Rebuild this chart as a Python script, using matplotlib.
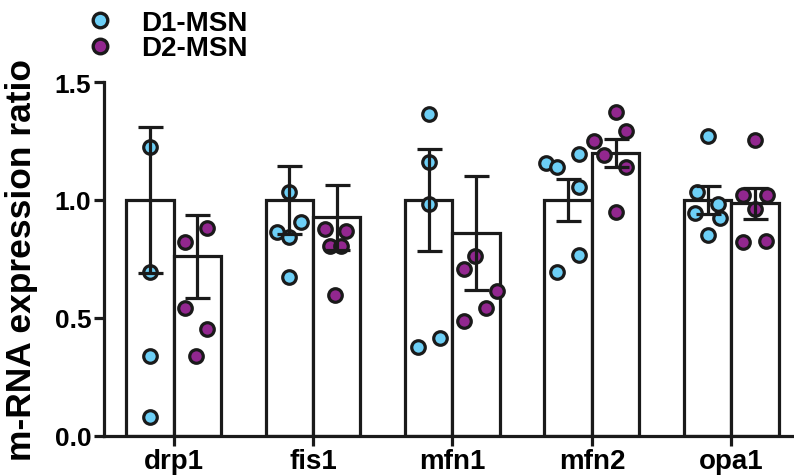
import matplotlib
matplotlib.use("Agg")
import matplotlib.pyplot as plt
from matplotlib.lines import Line2D
import numpy as np

plt.rcParams['font.family'] = ['Liberation Sans', 'DejaVu Sans']
plt.rcParams['font.weight'] = 'bold'

genes = ["drp1", "fis1", "mfn1", "mfn2", "opa1"]
groups = ["D1-MSN", "D2-MSN"]

d1_means = [1.0, 1.0, 1.0, 1.0, 1.0]
d1_sem = [0.311, 0.143, 0.216, 0.089, 0.061]
d2_means = [0.761, 0.927, 0.860, 1.199, 0.986]
d2_sem = [0.175, 0.137, 0.240, 0.060, 0.066]

d1_points = [
    [1.223, 0.694, 0.340, 0.082],
    [1.032, 0.908, 0.863, 0.842, 0.672],
    [1.364, 1.162, 0.983, 0.376, 0.414],
    [1.157, 1.138, 1.195, 1.054, 0.767, 0.693],
    [1.270, 1.035, 0.983, 0.945, 0.924, 0.853],
]
d2_points = [
    [0.820, 0.880, 0.541, 0.453, 0.338],
    [0.877, 0.806, 0.806, 0.870, 0.599],
    [0.761, 0.708, 0.613, 0.541, 0.486],
    [1.251, 1.191, 1.374, 1.291, 1.138, 0.950],
    [1.256, 1.021, 1.021, 0.962, 0.820, 0.828],
]
# horizontal jitter of the dots (category units)
d1_jitter = [
    [0, 0, 0, 0],
    [0, 0.084, -0.086, 0, 0],
    [0, 0, 0, -0.077, 0.084],
    [-0.156, -0.077, 0.077, 0.077, 0.077, -0.081],
    [0, -0.079, 0.075, -0.093, 0.086, 0],
]
d2_jitter = [
    [-0.092, 0.068, -0.092, 0.068, -0.013],
    [-0.088, -0.052, 0.031, 0.067, -0.012],
    [-0.009, -0.088, 0.15, 0.072, -0.088],
    [-0.154, -0.082, 0, 0.077, 0.077, 0],
    [0, -0.086, 0.084, 0, -0.086, 0.077],
]

c_d1 = '#6dcff6'
c_d2 = '#92278f'
edge = '#1a1a1a'

W, H = 794, 477
fig = plt.figure(figsize=(W / 100, H / 100), dpi=100)
ax = fig.add_axes([104 / W, 1 - 437 / H, (794 - 104) / W, (437 - 83) / H])

x = np.arange(len(genes))
bw = 0.34
off = 0.17
lw = 2.3

for means, sems, pts, jit, sign, col in [
    (d1_means, d1_sem, d1_points, d1_jitter, -1, c_d1),
    (d2_means, d2_sem, d2_points, d2_jitter, 1, c_d2),
]:
    pos = x + sign * off
    ax.bar(pos, means, width=bw, color='white', edgecolor=edge, linewidth=lw, zorder=2)
    for i in range(len(genes)):
        px = pos[i] + np.array(jit[i])
        ax.scatter(px, pts[i], s=95, facecolor=col, edgecolor=edge, linewidth=2.3, zorder=3)
    ax.errorbar(pos, means, yerr=sems, fmt='none', ecolor=edge, elinewidth=lw,
                capsize=9, capthick=lw, zorder=4)

ax.set_xlim(-0.5, 4.45)
ax.set_ylim(0, 1.5)
ax.set_yticks([0.0, 0.5, 1.0, 1.5])
ax.set_yticklabels(['0.0', '0.5', '1.0', '1.5'])
ax.set_xticks(x)
ax.set_xticklabels(genes)
for s in ['top', 'right']:
    ax.spines[s].set_visible(False)
for s in ['left', 'bottom']:
    ax.spines[s].set_linewidth(lw)
    ax.spines[s].set_color(edge)
ax.tick_params(axis='both', width=lw, length=7, color=edge, pad=2)
ax.tick_params(axis='y', labelsize=19)
ax.tick_params(axis='x', labelsize=20)
for t in ax.get_xticklabels() + ax.get_yticklabels():
    t.set_fontweight('bold')

ax.set_ylabel('m-RNA expression ratio', fontsize=25.5, fontweight='bold')
ax.yaxis.set_label_coords(-0.096, 0.5)

handles = [
    Line2D([], [], linestyle='none', marker='o', markersize=10.5, markerfacecolor=c_d1,
           markeredgecolor=edge, markeredgewidth=2.4),
    Line2D([], [], linestyle='none', marker='o', markersize=10.5, markerfacecolor=c_d2,
           markeredgecolor=edge, markeredgewidth=2.4),
]
fig.legend(handles, groups, loc='upper left', bbox_to_anchor=(86 / W, 1 - 11 / H),
           frameon=False, handlelength=1.0, handletextpad=1.0,
           labelspacing=-0.02, borderpad=0, borderaxespad=0,
           prop={'weight': 'bold', 'size': 20})

fig.savefig('out.png', dpi=100)
